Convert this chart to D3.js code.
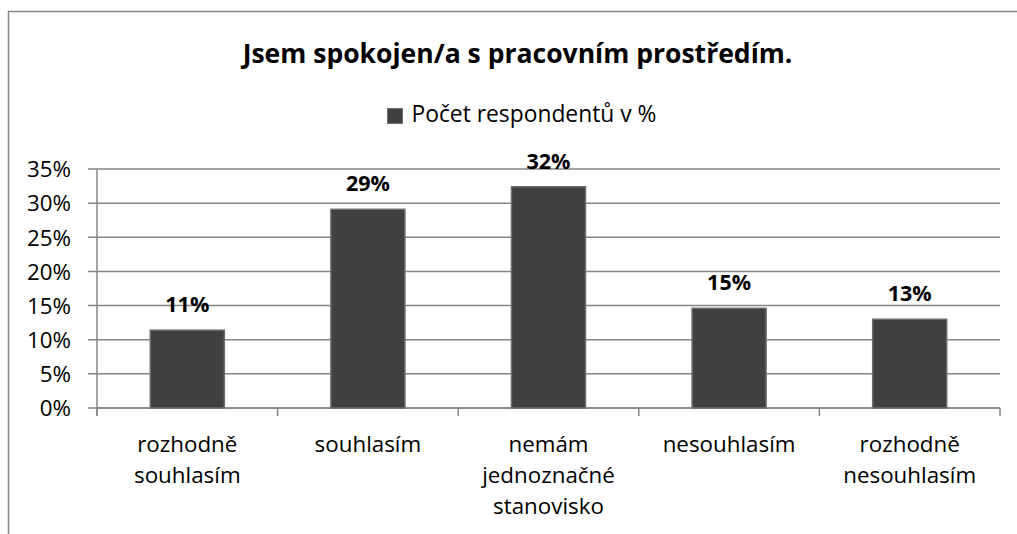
<!DOCTYPE html>
<html><head><meta charset="utf-8">
<script src="https://cdn.jsdelivr.net/npm/d3@7"></script>
<style>body{margin:0;background:#fff}svg{display:block}text{font-family:"Open Sans",Lato,sans-serif}</style>
</head><body>
<script>
const title = "Jsem spokojen/a s pracovním prostředím.";
const seriesName = "Počet respondentů v %";
const categories = [["rozhodně","souhlasím"],["souhlasím"],["nemám","jednoznačné","stanovisko"],["nesouhlasím"],["rozhodně","nesouhlasím"]];
const values = [11.4, 29.1, 32.4, 14.6, 13.0];
const valueLabels = ["11%","29%","32%","15%","13%"];
const yTicks = [0,5,10,15,20,25,30,35];

const W = 1017, H = 534;
const svg = d3.select("body").append("svg").attr("width", W).attr("height", H);
svg.append("rect").attr("x",8.5).attr("y",11.5).attr("width",1100).attr("height",600)
  .attr("fill","none").attr("stroke","#868686").attr("stroke-width",1.5);

// font size that makes a sample text reach a target width
function fit(sample, weight, target) {
  const t = svg.append("text").attr("font-size",20).attr("font-weight",weight).text(sample);
  const w = t.node().getComputedTextLength();
  t.remove();
  return 20 * target / w;
}
const fsTitle = fit(title, "bold", 550);
const fsLegend = fit(seriesName, "normal", 245);
const fsCat = fit("nesouhlasím", "normal", 133);
const fsY = fit("35%", "normal", 44);
const fsVal = fit("29%", "bold", 44);

const m = {left:97, right:1000, top:169, bottom:408};
const x = d3.scaleBand().domain(d3.range(categories.length)).range([m.left, m.right]).paddingInner(0.59).paddingOuter(0.295);
const y = d3.scaleLinear().domain([0,35]).range([m.bottom, m.top]);

// gridlines
svg.append("g").selectAll("line").data(yTicks).join("line")
  .attr("x1", m.left-9).attr("x2", m.right).attr("y1", d=>y(d)).attr("y2", d=>y(d))
  .attr("stroke","#868686").attr("stroke-width",1.5);

// y axis
const yAxis = d3.axisLeft(y).tickValues(yTicks).tickFormat(d=>d+"%").tickSize(0).tickPadding(26);
const ga = svg.append("g").attr("transform",`translate(${m.left},0)`).call(yAxis);
ga.select(".domain").remove();
ga.selectAll("text").attr("font-size",fsY).attr("font-family",null).attr("fill","#000").attr("dy","0.35em");
svg.append("line").attr("x1",m.left).attr("x2",m.left).attr("y1",m.top).attr("y2",m.bottom+8).attr("stroke","#868686").attr("stroke-width",1.5);

// x axis
const edges = d3.range(categories.length+1).map(i => m.left + i*(m.right-m.left)/categories.length);
svg.append("line").attr("x1",m.left).attr("x2",m.right).attr("y1",m.bottom).attr("y2",m.bottom).attr("stroke","#868686").attr("stroke-width",1.5);
svg.append("g").selectAll("line").data(edges).join("line")
  .attr("x1",d=>d).attr("x2",d=>d).attr("y1",m.bottom).attr("y2",m.bottom+8)
  .attr("stroke","#868686").attr("stroke-width",1.5);

// bars
svg.append("g").selectAll("rect").data(values).join("rect")
  .attr("x",(d,i)=>x(i)).attr("width",x.bandwidth())
  .attr("y",d=>y(d)).attr("height",d=>y(0)-y(d))
  .attr("fill","#404040").attr("stroke","#6e6e6e").attr("stroke-width",1.5);

// value labels
svg.append("g").selectAll("text").data(values).join("text")
  .attr("x",(d,i)=>x(i)+x.bandwidth()/2).attr("y",d=>y(d)-18)
  .attr("text-anchor","middle").attr("font-size",fsVal).attr("font-weight","bold").attr("fill","#000")
  .text((d,i)=>valueLabels[i]);

// category labels
const cl = svg.append("g").selectAll("text").data(categories).join("text")
  .attr("x",(d,i)=>x(i)+x.bandwidth()/2).attr("y",452)
  .attr("text-anchor","middle").attr("font-size",fsCat).attr("fill","#000");
cl.selectAll("tspan").data(d=>d).join("tspan")
  .attr("x",function(){return this.parentNode.getAttribute("x");})
  .attr("dy",(d,i)=>i===0?0:31).text(d=>d);

// title
svg.append("text").attr("x",517.5).attr("y",63).attr("text-anchor","middle")
  .attr("font-size",fsTitle).attr("font-weight","bold").attr("fill","#000").text(title);

// legend
svg.append("rect").attr("x",387.5).attr("y",108.5).attr("width",15).attr("height",15).attr("fill","#404040").attr("stroke","#6e6e6e");
svg.append("text").attr("x",411.5).attr("y",122).attr("font-size",fsLegend).attr("fill","#000").text(seriesName);
</script>
</body></html>
